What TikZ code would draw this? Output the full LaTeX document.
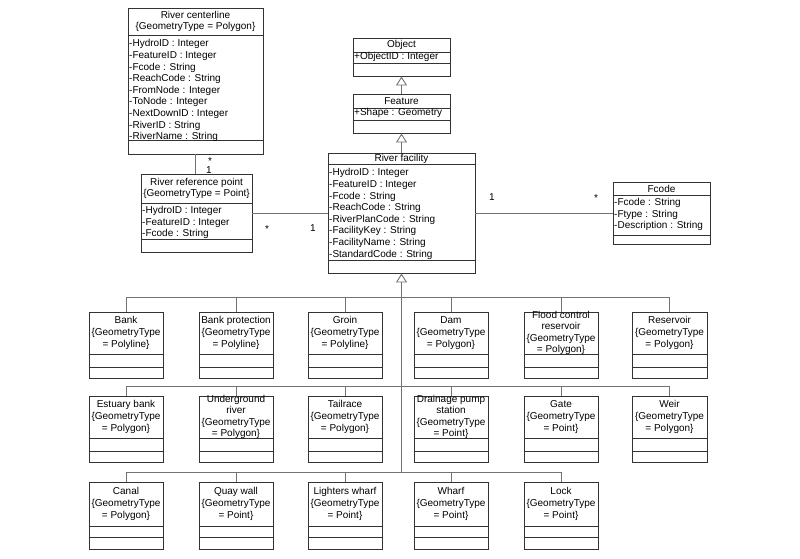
\documentclass[tikz,border=0pt]{standalone}
\usepackage{fontspec}
\setmainfont{Liberation Sans}
\usetikzlibrary{arrows.meta}
\tikzset{
  clsbox/.style={draw=black!80, line width=0.9pt, inner sep=0pt},
  sepline/.style={draw=black!80, line width=0.9pt},
  titletext/.style={font=\fontsize{10}{11.6}\selectfont, align=center, inner sep=0pt},
  attrtext/.style={font=\fontsize{10}{11.6}\selectfont, align=left, inner xsep=1pt, inner ysep=3pt, anchor=north west},
  conn/.style={draw=black!55, line width=0.9pt},
  gen/.style={conn, -{Triangle[open, width=11pt, length=9pt]}},
  mult/.style={font=\fontsize{10}{12}\selectfont, inner sep=0pt},
}
% name, x1, y1, x2, y2, sep1, sep2, title, attributes
\newcommand{\umlcls}[9]{%
  \node[clsbox, minimum width={(#4-#2)*1pt}, minimum height={(#5-#3)*1pt}] (#1) at ({(#2+#4)/2},{(#3+#5)/2}) {};
  \draw[sepline] (#1.west |- 0,#6) -- (#1.east |- 0,#6);
  \draw[sepline] (#1.west |- 0,#7) -- (#1.east |- 0,#7);
  \node[titletext] (#1-t) at ({(#2+#4)/2},{(#3+#6)/2}) {#8};
  \node[attrtext] (#1-a) at (#2,#6) {#9};
}
\begin{document}
\begin{tikzpicture}[x=1pt, y=-1pt]
\useasboundingbox[fill=white] (0,0) rectangle (800,558);

% upper classes
\begin{scope}[attrtext/.append style={inner ysep=4.5pt}]
\umlcls{rc}{128}{8}{263}{154}{35}{140}{River centerline\\\{GeometryType = Polygon\}}%
{-HydroID : Integer\\-FeatureID : Integer\\-Fcode : String\\-ReachCode : String\\-FromNode : Integer\\-ToNode : Integer\\-NextDownID : Integer\\-RiverID : String\\-RiverName : String}
\umlcls{rf}{328}{153}{475}{273}{164}{260}{River facility}%
{-HydroID : Integer\\-FeatureID : Integer\\-Fcode : String\\-ReachCode : String\\-RiverPlanCode : String\\-FacilityKey : String\\-FacilityName : String\\-StandardCode : String}
\end{scope}
\umlcls{rrp}{141}{174}{252}{252}{203}{239}{River reference point\\\{GeometryType = Point\}}%
{-HydroID : Integer\\-FeatureID : Integer\\-Fcode : String}
\begin{scope}[attrtext/.append style={inner ysep=0.5pt}]
\umlcls{obj}{353}{38}{450}{76}{52}{63}{Object}{+ObjectID : Integer}
\umlcls{feat}{353}{94}{450}{133}{108}{120}{Feature}{+Shape : Geometry}
\end{scope}
\umlcls{fc}{613}{182}{710}{244}{195}{235}{Fcode}%
{-Fcode : String\\-Ftype : String\\-Description : String}

% row 1
\umlcls{bank}{89}{312}{163}{378}{354}{367}{Bank\\\{GeometryType\\= Polyline\}}{}
\umlcls{bankprot}{199}{312}{273}{378}{354}{367}{Bank protection\\\{GeometryType\\= Polyline\}}{}
\umlcls{groin}{308}{312}{382}{378}{354}{367}{Groin\\\{GeometryType\\= Polyline\}}{}
\umlcls{dam}{414}{312}{488}{378}{354}{367}{Dam\\\{GeometryType\\= Polygon\}}{}
\umlcls{flood}{524}{312}{598}{378}{354}{367}{Flood control\\reservoir\\\{GeometryType\\= Polygon\}}{}
\umlcls{reservoir}{632}{312}{707}{378}{354}{367}{Reservoir\\\{GeometryType\\= Polygon\}}{}

% row 2
\umlcls{estuary}{89}{396}{163}{462}{438}{451}{Estuary bank\\\{GeometryType\\= Polygon\}}{}
\umlcls{underground}{199}{396}{273}{462}{438}{451}{Underground\\river\\\{GeometryType\\= Polygon\}}{}
\umlcls{tailrace}{308}{396}{382}{462}{438}{451}{Tailrace\\\{GeometryType\\= Polygon\}}{}
\umlcls{drainage}{414}{396}{488}{462}{438}{451}{Drainage pump\\station\\\{GeometryType\\= Point\}}{}
\umlcls{gate}{524}{396}{598}{462}{438}{451}{Gate\\\{GeometryType\\= Point\}}{}
\umlcls{weir}{632}{396}{707}{462}{438}{451}{Weir\\\{GeometryType\\= Polygon\}}{}

% row 3
\umlcls{canal}{89}{482}{163}{549}{526}{537}{Canal\\\{GeometryType\\= Polygon\}}{}
\umlcls{quay}{199}{482}{273}{549}{526}{537}{Quay wall\\\{GeometryType\\= Point\}}{}
\umlcls{lighters}{308}{482}{382}{549}{526}{537}{Lighters wharf\\\{GeometryType\\= Point\}}{}
\umlcls{wharf}{414}{482}{488}{549}{526}{537}{Wharf\\\{GeometryType\\= Point\}}{}
\umlcls{lock}{524}{482}{598}{549}{526}{537}{Lock\\\{GeometryType\\= Point\}}{}

% inheritance chain
\draw[gen] (feat.north) -- (obj.south);
\draw[gen] (rf.north) -- (feat.south);

% generalisation buses
\coordinate (b1) at (0,297);
\coordinate (b2) at (0,386);
\coordinate (b3) at (0,472);
\draw[conn] (bank.north |- b1) -- (reservoir.north |- b1);
\foreach \n in {bank,bankprot,groin,dam,flood,reservoir} \draw[conn] (\n.north) -- (\n.north |- b1);
\draw[conn] (estuary.north |- b2) -- (weir.north |- b2);
\foreach \n in {estuary,underground,tailrace,drainage,gate,weir} \draw[conn] (\n.north) -- (\n.north |- b2);
\draw[conn] (canal.north |- b3) -- (lock.north |- b3);
\foreach \n in {canal,quay,lighters,wharf,lock} \draw[conn] (\n.north) -- (\n.north |- b3);
\draw[gen] (rf.south |- b3) -- (rf.south);

% associations
\draw[conn] (rc.south) -- (rc.south |- rrp.north);
\node[mult] (m1) at (210,161) {*};
\node[mult] (m2) at (209,170) {1};
\draw[conn] (rrp.east) -- (rf.west);
\node[mult] (m3) at (267,229) {*};
\node[mult] (m4) at (313,228) {1};
\draw[conn] (rf.east) -- (fc.west);
\node[mult] (m5) at (492,197) {1};
\node[mult] (m6) at (596,198) {*};
\end{tikzpicture}
\end{document}
